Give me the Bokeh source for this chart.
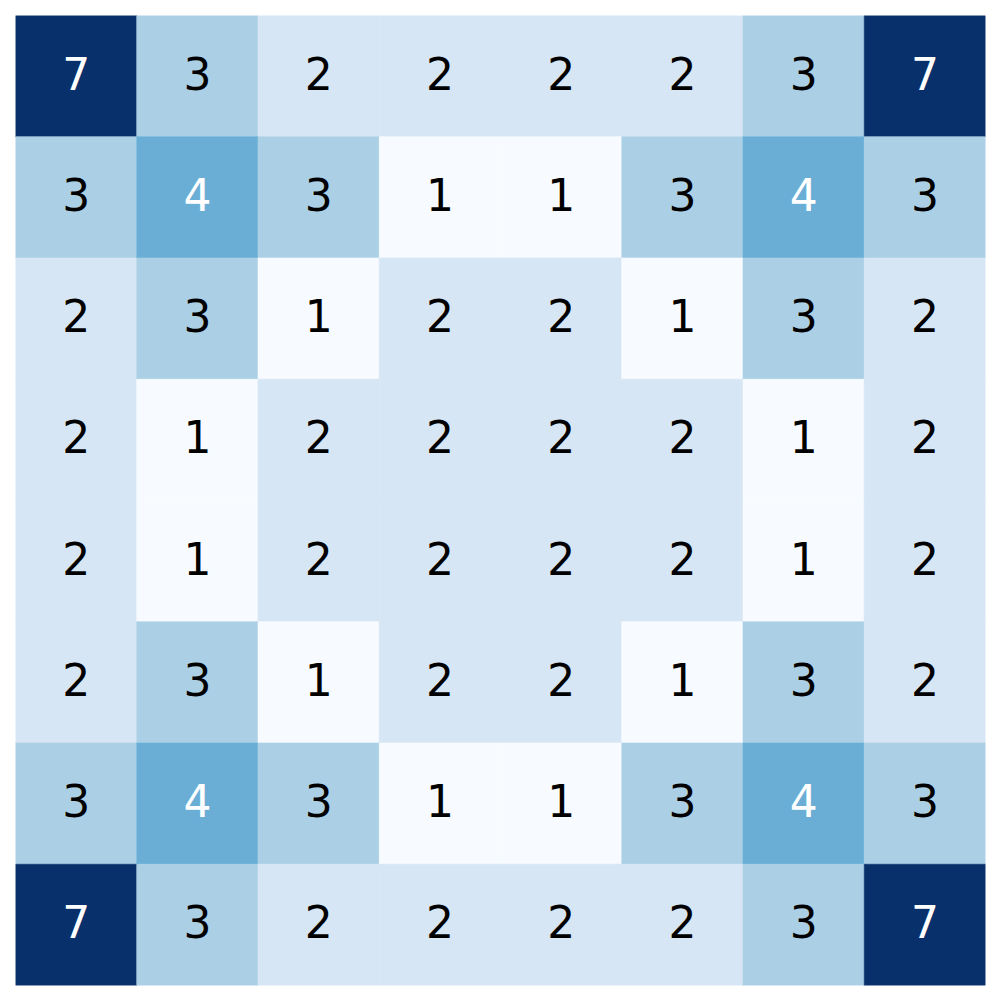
from bokeh.plotting import figure
from bokeh.models import ColumnDataSource, LinearColorMapper, Range1d
from bokeh.palettes import Blues256
from bokeh.core.properties import value
from bokeh.embed import file_html
from bokeh.resources import INLINE

matrix = [
    [7, 3, 2, 2, 2, 2, 3, 7],
    [3, 4, 3, 1, 1, 3, 4, 3],
    [2, 3, 1, 2, 2, 1, 3, 2],
    [2, 1, 2, 2, 2, 2, 1, 2],
    [2, 1, 2, 2, 2, 2, 1, 2],
    [2, 3, 1, 2, 2, 1, 3, 2],
    [3, 4, 3, 1, 1, 3, 4, 3],
    [7, 3, 2, 2, 2, 2, 3, 7],
]
n = len(matrix)
vmin = min(min(r) for r in matrix)
vmax = max(max(r) for r in matrix)

xs, ys, vals, labels, tcolors = [], [], [], [], []
for i, row in enumerate(matrix):
    for j, v in enumerate(row):
        xs.append(j + 0.5)
        ys.append(i + 0.5)
        vals.append(v)
        labels.append(str(v))
        tcolors.append("white" if (v - vmin) / (vmax - vmin) > 0.4 else "black")

src = ColumnDataSource(dict(x=xs, y=ys, v=vals, label=labels, tc=tcolors))
mapper = LinearColorMapper(palette=list(Blues256[::-1]), low=vmin, high=vmax)

p = figure(width=1000, height=1000, output_backend="svg", toolbar_location=None,
           x_range=Range1d(0, n), y_range=Range1d(n, 0),
           min_border_left=15, min_border_right=15, min_border_top=15, min_border_bottom=15)
p.rect(x="x", y="y", width=1, height=1, source=src,
       fill_color={"field": "v", "transform": mapper},
       line_color={"field": "v", "transform": mapper}, line_width=0.6)
p.text(x="x", y="y", text="label", source=src, text_color="tc",
       text_align="center", text_baseline="middle", y_offset=-3,
       text_font=value("DejaVu Sans"), text_font_size="44px")
p.axis.visible = False
p.grid.visible = False
p.outline_line_color = None
p.background_fill_color = "white"
p.border_fill_color = "white"

open("out.html", "w").write(file_html(p, INLINE))
